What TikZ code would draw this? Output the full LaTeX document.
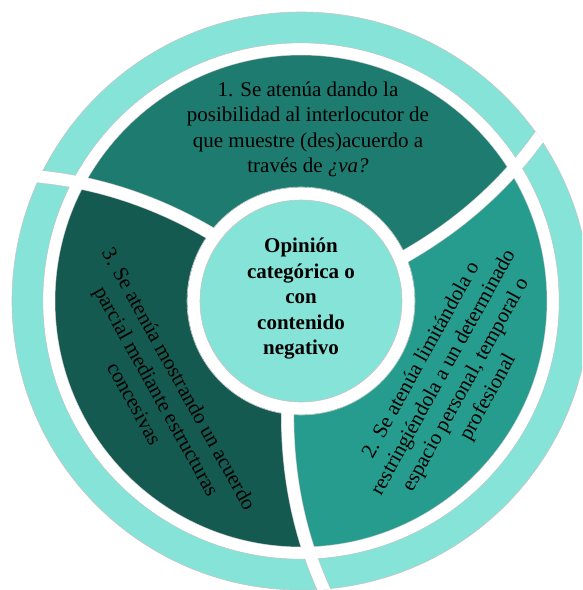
\documentclass[tikz,border=0pt]{standalone}
\usepackage{fontspec}
\setmainfont{Liberation Serif}
\definecolor{ringc}{HTML}{86E3D8}
\definecolor{secA}{HTML}{1E7B70}
\definecolor{secB}{HTML}{269C8E}
\definecolor{secC}{HTML}{155A50}
\newcommand\sepang[2]{#1-0.0575*(#2-115)-0.4*((#2-115)/100)^2}
\begin{document}
\begin{tikzpicture}[x=1pt,y=-1pt,
  outl/.style={draw=gray!45,line width=0.6pt},
  lbl/.style={font=\fontsize{21}{25.5}\selectfont, align=center, text=black, inner sep=0pt},
  sepline/.style={line width=#1, line cap=butt},
]
\useasboundingbox (0,0) rectangle (582,590);
\clip (0,0) rectangle (582,590);
\begin{scope}[shift={(301,301)}]
  % outer ring
  \fill[ringc, even odd rule] (0,0) circle (289) (0,0) circle (258);
  % sectors
  \begin{scope}
    \clip (0,0) circle (246);
    \fill[secA] plot[domain=0:300,samples=31,variable=\rr] ({\sepang{216.7}{\rr}}:{\rr})
      -- (264.7:600)
      -- plot[domain=300:0,samples=31,variable=\rr] ({\sepang{336.7}{\rr}}:{\rr}) -- cycle;
    \fill[secB] plot[domain=0:300,samples=31,variable=\rr] ({\sepang{336.7}{\rr}}:{\rr})
      -- (384.7:600)
      -- plot[domain=300:0,samples=31,variable=\rr] ({\sepang{456.7}{\rr}}:{\rr}) -- cycle;
    \fill[secC] plot[domain=0:300,samples=31,variable=\rr] ({\sepang{96.7}{\rr}}:{\rr})
      -- (144.7:600)
      -- plot[domain=300:0,samples=31,variable=\rr] ({\sepang{216.7}{\rr}}:{\rr}) -- cycle;
  \end{scope}
  % outlines
  \draw[outl] (0,0) circle (289) (0,0) circle (258) (0,0) circle (246) (0,0) circle (114);
  % separators
  \begin{scope}
    \clip (0,0) circle (289.6);
    \foreach \a in {96.7,216.7,336.7}{
      \draw[gray!45, sepline=13.2pt] plot[domain=0:300,samples=31,variable=\rr] ({\sepang{\a}{\rr}}:{\rr});
      \draw[white, sepline=12pt] plot[domain=0:300,samples=31,variable=\rr] ({\sepang{\a}{\rr}}:{\rr});
    }
  \end{scope}
  \fill[white, even odd rule] (0,0) circle (257.6) (0,0) circle (246.4);
  % centre
  \fill[white] (0,0) circle (113.6);
  \filldraw[fill=ringc, outl] (0,0) circle (101);
\end{scope}
\node[lbl, font=\fontsize{21}{25.5}\selectfont\bfseries] (t0) at (301,299) {Opinión\\categórica o\\con\\contenido\\negativo};
\node[lbl] (t1) at (308,129.5) {1. Se atenúa dando la\\posibilidad al interlocutor de\\que muestre (des)acuerdo a\\través de \textit{¿va?}};
\node[lbl, rotate=61] (t2) at (455,379) {2. Se atenúa limitándola o\\restringiéndola a un determinado\\espacio personal, temporal o\\profesional};
\node[lbl, rotate=-61] (t3) at (157,391) {3. Se atenúa mostrando un acuerdo\\parcial mediante estructuras\\concesivas};
\end{tikzpicture}
\end{document}
